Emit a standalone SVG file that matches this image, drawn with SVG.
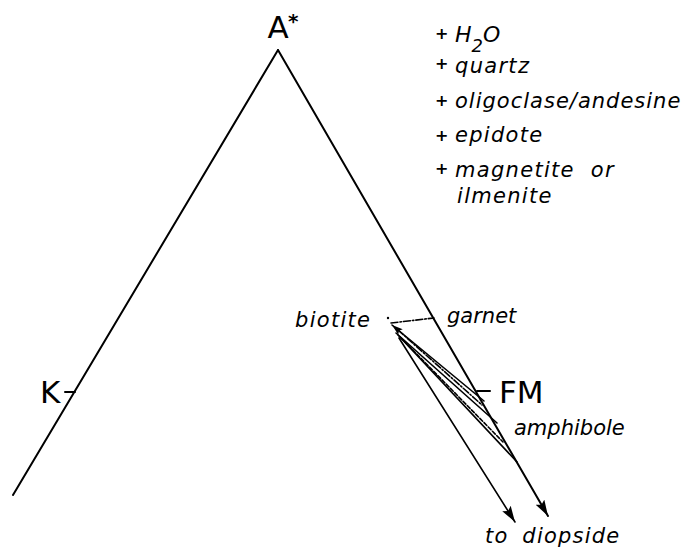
<svg xmlns="http://www.w3.org/2000/svg" width="688" height="548" viewBox="0 0 688 548">
<style>
.edge{fill:none;stroke:#000;stroke-width:2;stroke-linecap:round}
.tie{fill:none;stroke:#000;stroke-width:1.6;stroke-linecap:round}
.dash{stroke-dasharray:7 2 1.5 2}
.dash2{stroke-dasharray:4 2}
.up{font-family:"DejaVu Sans",sans-serif;font-size:31px;fill:#000}
.it{font-family:"DejaVu Sans",sans-serif;font-style:italic;font-size:21px;fill:#000}
.ls{letter-spacing:1.3px}
.pl{font-family:"DejaVu Sans",sans-serif;font-size:16px;font-weight:bold;fill:#000}
</style>
<defs>
<marker id="ah" markerUnits="userSpaceOnUse" markerWidth="18" markerHeight="12" refX="16" refY="5" orient="auto-start-reverse" viewBox="0 0 18 10">
<path d="M0,0 L16,5 L0,10 L3,5 z" fill="#000"/>
</marker>
<marker id="ahs" markerUnits="userSpaceOnUse" markerWidth="12" markerHeight="8" refX="11" refY="3.5" orient="auto-start-reverse" viewBox="0 0 12 7">
<path d="M0,0 L11,3.5 L0,7 L2,3.5 z" fill="#000"/>
</marker>
</defs>
<g id="connectors">
<path class="edge" d="M13,495 L278,50"/>
<path class="edge" d="M278,50 L548,516" marker-end="url(#ah)"/>
<path class="edge" d="M65,392 L75,392"/>
<path class="edge" d="M477,391 L490,391"/>
<path class="tie dash" d="M391,323 L434,318"/>
<path class="tie" d="M392,325 L484,401" marker-start="url(#ahs)"/>
<path class="tie dash" d="M398,330 L482,405"/>
<path class="tie" d="M396,333 L497,423"/>
<path class="tie dash2" d="M400,337 L503,442"/>
<path class="tie" d="M398,335 L517,462"/>
<path class="tie" d="M399,338 L515,522" marker-end="url(#ah)"/>
</g>
<g id="apex-A">
<text class="up" x="278" y="38" text-anchor="middle">A</text>
<text class="up" x="288" y="28" style="font-size:20px;font-weight:bold">*</text>
</g>
<g id="corner-K"><text class="up" x="40" y="403">K</text></g>
<g id="corner-FM"><text class="up" x="499" y="403">FM</text></g>
<g id="biotite">
<circle cx="388" cy="318" r="1.2" fill="#000"/>
<text class="it ls" x="295" y="327">biotite</text>
</g>
<g id="garnet"><text class="it" x="447" y="323">garnet</text></g>
<g id="amphibole"><text class="it" x="514" y="435">amphibole</text></g>
<g id="diopside"><text class="it" x="485" y="543" style="letter-spacing:1.2px;word-spacing:6px">to diopside</text></g>
<g id="assemblage">
<text class="pl" x="435" y="39">+</text>
<text class="it" x="455" y="42" style="font-size:22px">H<tspan dy="10" style="font-size:18px">2</tspan><tspan dy="-10">O</tspan></text>
<text class="pl" x="435" y="69">+</text>
<text class="it ls" x="455" y="73">quartz</text>
<text class="pl" x="435" y="106">+</text>
<text class="it" x="455" y="108" style="letter-spacing:1px">oligoclase/andesine</text>
<text class="pl" x="435" y="141">+</text>
<text class="it ls" x="455" y="142">epidote</text>
<text class="pl" x="435" y="174">+</text>
<text class="it ls" x="455" y="177" style="word-spacing:8px">magnetite or</text>
<text class="it ls" x="457" y="203">ilmenite</text>
</g>
</svg>
